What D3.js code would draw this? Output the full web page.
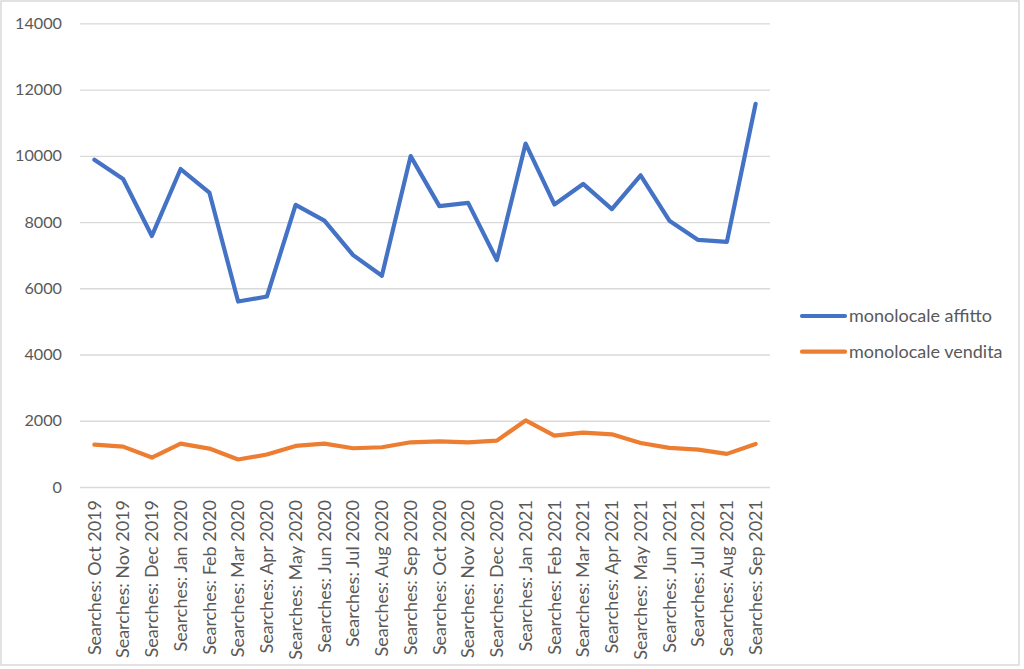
<!DOCTYPE html>
<html><head><meta charset="utf-8">
<script src="https://cdn.jsdelivr.net/npm/d3@7"></script>
<style>body{margin:0;background:#fff}svg{display:block}text{font-family:Lato,"Open Sans",sans-serif;fill:#595959}</style>
</head><body>
<svg id="c" width="1024" height="669"></svg>
<script>
const categories = ["Searches: Oct 2019","Searches: Nov 2019","Searches: Dec 2019","Searches: Jan 2020","Searches: Feb 2020","Searches: Mar 2020","Searches: Apr 2020","Searches: May 2020","Searches: Jun 2020","Searches: Jul 2020","Searches: Aug 2020","Searches: Sep 2020","Searches: Oct 2020","Searches: Nov 2020","Searches: Dec 2020","Searches: Jan 2021","Searches: Feb 2021","Searches: Mar 2021","Searches: Apr 2021","Searches: May 2021","Searches: Jun 2021","Searches: Jul 2021","Searches: Aug 2021","Searches: Sep 2021"];
const affitto = [9880,9300,7580,9600,8890,5600,5750,8520,8040,7000,6380,9990,8480,8580,6850,10370,8530,9150,8390,9410,8040,7460,7400,11570];
const vendita = [1280,1220,890,1310,1160,830,980,1240,1310,1170,1200,1350,1380,1350,1400,2010,1550,1640,1590,1330,1180,1130,1000,1300];
const seriesNames = ["monolocale affitto","monolocale vendita"];
const seriesColors = ["#4472C4","#ED7D31"];
const yTicks = [0,2000,4000,6000,8000,10000,12000,14000];

const svg = d3.select("#c");
svg.append("rect").attr("x",1).attr("y",1).attr("width",1018).attr("height",664)
  .attr("fill","#fff").attr("stroke","#d9d9d9").attr("stroke-width",1.5);

const pLeft=80, pRight=770, pTop=23.3, pBottom=487;
const x = d3.scaleBand().domain(categories).range([pLeft,pRight]);
const y = d3.scaleLinear().domain([0,14000]).range([pBottom,pTop]);

const yAxis = d3.axisLeft(y).tickValues(yTicks).tickSize(-(pRight-pLeft)).tickPadding(18).tickFormat(d3.format("d"));
const gy = svg.append("g").attr("transform",`translate(${pLeft},0)`).call(yAxis);
gy.select(".domain").remove();
gy.selectAll("line").attr("stroke","#d9d9d9").attr("stroke-width",1.3);
gy.selectAll("text").attr("font-size",16.2).attr("fill","#595959").attr("x",-18);

const xAxis = d3.axisBottom(x).tickSize(0).tickPadding(0);
const gx = svg.append("g").attr("transform",`translate(0,${pBottom})`).call(xAxis);
gx.select(".domain").remove();
gx.selectAll("text").attr("font-size",18).attr("fill","#595959")
  .attr("text-anchor","end").attr("dy","0.35em")
  .attr("transform","translate(0,13) rotate(-90)").attr("x",0).attr("y",0);

const line = d3.line().x((d,i)=>x(categories[i])+x.bandwidth()/2).y(d=>y(d));
[affitto,vendita].forEach((s,k)=>{
  svg.append("path").datum(s).attr("d",line).attr("fill","none")
    .attr("stroke",seriesColors[k]).attr("stroke-width",4.2)
    .attr("stroke-linejoin","round").attr("stroke-linecap","round");
});

const lg = svg.append("g");
seriesNames.forEach((n,k)=>{
  const yy = 316 + k*35.7;
  lg.append("line").attr("x1",802).attr("x2",845).attr("y1",yy).attr("y2",yy)
    .attr("stroke",seriesColors[k]).attr("stroke-width",4.2).attr("stroke-linecap","round");
  lg.append("text").attr("x",849).attr("y",yy).attr("dy","0.35em").attr("font-size",18).text(n);
});
</script>
</body></html>
